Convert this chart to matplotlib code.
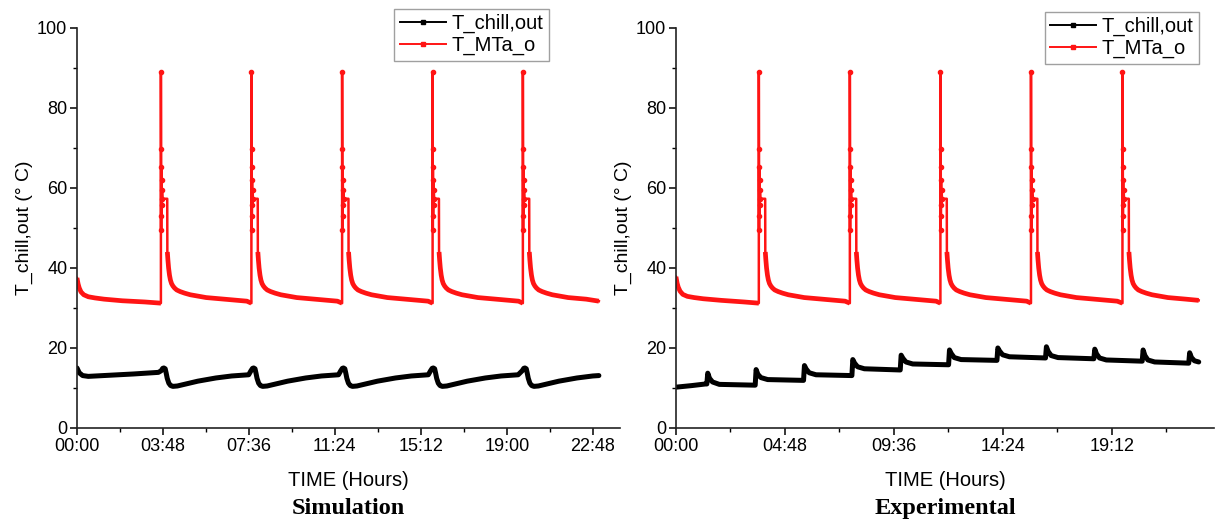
import matplotlib
matplotlib.use('Agg')
from matplotlib import pyplot as plt
from matplotlib.ticker import FixedLocator
from matplotlib.lines import Line2D

plt.rcParams['font.family'] = ['Liberation Sans', 'DejaVu Sans']

# ---- values (time in hours, temperature in deg C) ----
# MTa outlet: warm-up, then one cycle after each spike
red_start_h = [0, 0.05, 0.1, 0.18, 0.3, 0.5, 0.8, 1.2, 2.0, 3.0]
sim_red_start_c = [37.5, 36.0, 35.0, 34.0, 33.3, 32.8, 32.5, 32.2, 31.8, 31.5]
exp_red_start_c = [37.8, 36.2, 35.2, 34.2, 33.4, 32.9, 32.6, 32.3, 31.9, 31.5]
red_cycle_h = [0, 0, 0.005, 0.01, 0.015, 0.02, 0.03, 0.04, 0.05, 0.07,
               0.28, 0.285, 0.31, 0.34, 0.38, 0.42, 0.47, 0.53, 0.6, 0.7,
               0.85, 1.05, 1.3, 1.6, 2.0, 2.8, 3.8]
red_cycle_c = [31.2, 89.0, 69.8, 49.5, 65.3, 53.0, 62.0, 55.8, 59.5, 57.3,
               57.3, 44.0, 42.0, 40.0, 38.2, 37.0, 36.1, 35.5, 35.0, 34.5,
               34.1, 33.7, 33.3, 33.0, 32.6, 32.2, 31.7]
red_burst_idx = [1, 2, 3, 4, 5, 6, 7, 8, 9]   # cycle points drawn with symbols
red_decay_from = 11                             # cycle points drawn as the dense trace
sim_spike_h = [3.71, 7.71, 11.72, 15.72, 19.71]
exp_spike_h = [3.65, 7.66, 11.65, 15.64, 19.67]

# chiller outlet, simulation
sim_black_start_h = [0, 0.1, 0.25, 0.5, 1.5, 2.5, 3.6]
sim_black_start_c = [15.0, 13.8, 13.1, 12.9, 13.2, 13.5, 13.9]
sim_bump_h = [3.84, 7.81, 11.78, 15.75, 19.8]
black_cycle_h = [-0.12, -0.05, 0, 0.06, 0.1, 0.15, 0.22, 0.3, 0.4, 0.6, 0.9, 1.5, 2.3, 3.0, 3.75]
black_cycle_c = [14.3, 14.9, 15.0, 14.8, 13.8, 12.4, 11.2, 10.6, 10.4, 10.5, 10.9, 11.7, 12.5, 13.0, 13.3]

# chiller outlet, experiment
exp_black_start_h = [0, 0.7, 1.3]
exp_black_start_c = [10.2, 10.6, 11.0]
exp_bump_h = [1.36, 3.49, 5.62, 7.75, 9.88, 12.01, 14.14, 16.28, 18.41, 20.54, 22.59]
exp_bump_pre_c = [11.0, 10.7, 11.9, 13.1, 14.5, 15.8, 16.9, 17.5, 17.3, 16.7, 16.2]
exp_bump_peak_c = [13.7, 14.6, 15.6, 17.1, 18.2, 19.5, 20.0, 20.3, 19.7, 19.5, 18.8]
exp_bump_mid_c = [12.4, 13.4, 14.7, 16.2, 17.4, 18.6, 19.2, 19.1, 18.5, 18.1, 17.6]
exp_bump_low_c = [11.5, 12.6, 13.8, 15.3, 16.5, 17.6, 18.3, 18.1, 17.5, 17.0, 16.8]
exp_bump_settle_c = [10.9, 12.1, 13.3, 14.8, 16.0, 17.1, 17.8, 17.6, 17.0, 16.5, 16.5]
bump_step_h = [0, 0.04, 0.12, 0.25, 0.55]

sim_end_h, sim_red_end_c, sim_black_end_c = 23.07, 31.7, 13.1
exp_end_h, exp_red_end_c = 23.03, 31.9

sim_ticks_h = [0, 3.8, 7.6, 11.4, 15.2, 19.0, 22.8]
sim_tick_labels = ['00:00', '03:48', '07:36', '11:24', '15:12', '19:00', '22:48']
exp_ticks_h = [0, 4.8, 9.6, 14.4, 19.2]
exp_tick_labels = ['00:00', '04:48', '09:36', '14:24', '19:12']

RED = '#ff1414'
NAN = float('nan')


def build(start_h, start_c, events_h, cycle_h, cycle_c, end_h, end_c, mark_idx=(), thick_from=None):
    t = list(start_h)
    v = list(start_c)
    mt, mv = [], []
    tt, tv = list(start_h), list(start_c)
    for e in events_h:
        # dense trace runs on to the foot of the spike, then breaks
        tt += [e + cycle_h[0], NAN]
        tv += [cycle_c[0], NAN]
        for k, (dh, c) in enumerate(zip(cycle_h, cycle_c)):
            if e + dh < end_h:
                t.append(e + dh)
                v.append(c)
                if k in mark_idx:
                    mt.append(e + dh)
                    mv.append(c)
                if thick_from is not None and k >= thick_from:
                    tt.append(e + dh)
                    tv.append(c)
    t.append(end_h)
    v.append(end_c)
    tt.append(end_h)
    tv.append(end_c)
    return t, v, mt, mv, tt, tv


def build_exp_black():
    t = list(exp_black_start_h)
    v = list(exp_black_start_c)
    for i, tb in enumerate(exp_bump_h):
        vals = [exp_bump_pre_c[i], exp_bump_peak_c[i], exp_bump_mid_c[i],
                exp_bump_low_c[i], exp_bump_settle_c[i]]
        for dh, c in zip(bump_step_h, vals):
            if tb + dh <= exp_end_h:
                t.append(tb + dh)
                v.append(c)
    t.append(exp_end_h)
    v.append(exp_bump_settle_c[-1])
    return t, v


def style_axes(ax, ticks, labels, xmax):
    ax.set_xlim(0, xmax)
    ax.set_ylim(0, 100)
    ax.spines['top'].set_visible(False)
    ax.spines['right'].set_visible(False)
    for s in ['left', 'bottom']:
        ax.spines[s].set_linewidth(1.2)
        ax.spines[s].set_color('#222222')
    ax.xaxis.set_major_locator(FixedLocator(ticks))
    ax.set_xticklabels(labels)
    step = ticks[1] - ticks[0]
    ax.xaxis.set_minor_locator(FixedLocator([x + step / 2 for x in ticks]))
    ax.yaxis.set_major_locator(FixedLocator([0, 20, 40, 60, 80, 100]))
    ax.yaxis.set_minor_locator(FixedLocator([10, 30, 50, 70, 90]))
    ax.tick_params(which='major', direction='out', length=5, width=1.1, labelsize=13, pad=2)
    ax.tick_params(which='minor', direction='out', length=3, width=1.0)
    ax.set_xlabel('TIME (Hours)', fontsize=14.5, labelpad=12)
    ax.set_ylabel('T_chill,out (° C)', fontsize=14, labelpad=3)


def add_legend(ax, anchor):
    handles = [Line2D([], [], color='black', lw=1.4, marker='s', ms=3),
               Line2D([], [], color=RED, lw=1.4, marker='s', ms=3)]
    ax.legend(handles, ['T_chill,out', 'T_MTa_o'], loc='upper right', bbox_to_anchor=anchor,
              fontsize=14.5, frameon=True, fancybox=False, edgecolor='#888888',
              borderpad=0.25, handlelength=2.3, handletextpad=0.3, labelspacing=0.15,
              borderaxespad=0)


def draw_panel(ax, black, red):
    bt, bv = black
    rt, rv, mt, mv, tt, tv = red
    ax.plot(bt, bv, color='black', lw=3.6, solid_joinstyle='round', solid_capstyle='round')
    ax.plot(rt, rv, color=RED, lw=1.8, solid_joinstyle='round')
    ax.plot(tt, tv, color=RED, lw=3.4, solid_joinstyle='round', solid_capstyle='butt')
    ax.plot(mt, mv, 'o', color=RED, ms=3)


fig = plt.figure(figsize=(12.16, 5.25), dpi=100)
ax1 = fig.add_axes([0.0633, 0.1848, 0.4465, 0.762])
ax2 = fig.add_axes([0.5559, 0.1848, 0.4424, 0.762])

# simulation panel
sim_black = build(sim_black_start_h, sim_black_start_c, sim_bump_h, black_cycle_h,
                  black_cycle_c, sim_end_h, sim_black_end_c)[:2]
sim_red = build(red_start_h, sim_red_start_c, sim_spike_h, red_cycle_h, red_cycle_c,
                sim_end_h, sim_red_end_c, red_burst_idx, red_decay_from)
draw_panel(ax1, sim_black, sim_red)
style_axes(ax1, sim_ticks_h, sim_tick_labels, 24.0)
add_legend(ax1, (0.869, 1.0475))

# experimental panel
exp_red = build(red_start_h, exp_red_start_c, exp_spike_h, red_cycle_h, red_cycle_c,
                exp_end_h, exp_red_end_c, red_burst_idx, red_decay_from)
draw_panel(ax2, build_exp_black(), exp_red)
style_axes(ax2, exp_ticks_h, exp_tick_labels, 23.7)
add_legend(ax2, (0.972, 1.04))

for ax, name in [(ax1, 'Simulation'), (ax2, 'Experimental')]:
    pos = ax.get_position()
    fig.text(pos.x0 + pos.width / 2, 0.032, name, ha='center', va='center',
             fontsize=17.5, fontweight='bold', family=['Liberation Serif', 'DejaVu Serif'])

fig.savefig('out.png', dpi=100)
